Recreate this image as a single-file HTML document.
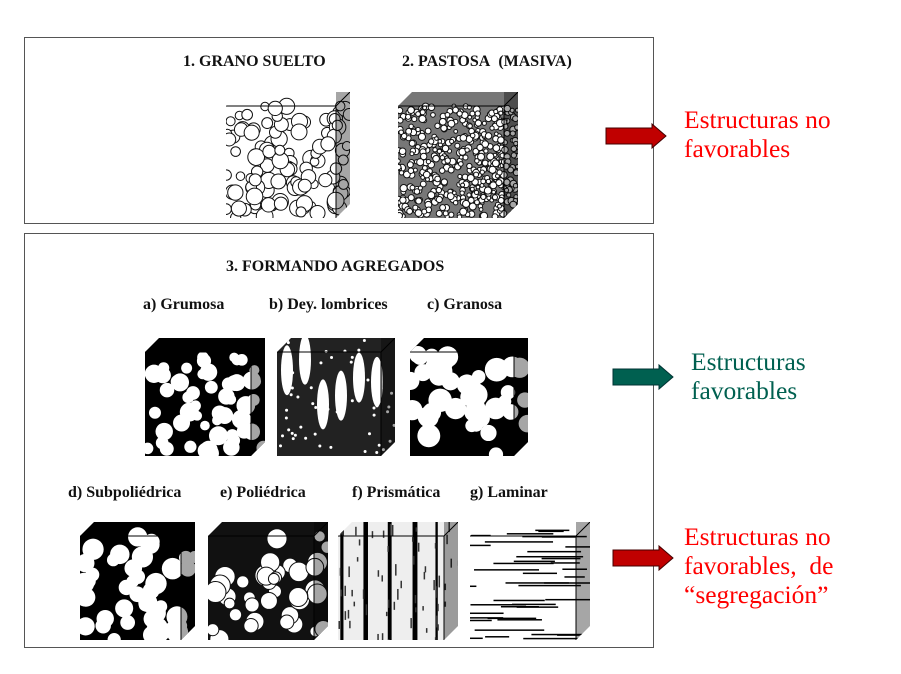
<!DOCTYPE html>
<html><head><meta charset="utf-8"><style>
body{margin:0;background:#fff;width:901px;height:674px;overflow:hidden;position:relative;font-family:"Liberation Serif",serif}
.box{position:absolute;border:1.5px solid #555;box-sizing:border-box}
.lb{position:absolute;font-weight:bold;font-size:16px;white-space:nowrap;color:#111}
.rt{position:absolute;font-size:25.5px;line-height:29px;white-space:nowrap}
svg{position:absolute;left:0;top:0}
</style></head><body>
<div class="box" style="left:24px;top:37px;width:630px;height:187px"></div>
<div class="box" style="left:24px;top:233px;width:630px;height:415px"></div>
<div class="lb" style="left:183px;top:53px">1. GRANO SUELTO</div>
<div class="lb" style="left:402px;top:53px">2. PASTOSA&nbsp; (MASIVA)</div>
<div class="lb" style="left:226px;top:258px">3. FORMANDO AGREGADOS</div>
<div class="lb" style="left:143px;top:296px">a) Grumosa</div>
<div class="lb" style="left:269px;top:296px">b) Dey. lombrices</div>
<div class="lb" style="left:427px;top:296px">c) Granosa</div>
<div class="lb" style="left:68px;top:484px">d) Subpoliédrica</div>
<div class="lb" style="left:220px;top:484px">e) Poliédrica</div>
<div class="lb" style="left:352px;top:484px">f) Prismática</div>
<div class="lb" style="left:470px;top:484px">g) Laminar</div>
<div class="rt" style="left:684px;top:105px;color:#f00">Estructuras no<br>favorables</div>
<div class="rt" style="left:691px;top:347px;color:#006050">Estructuras<br>favorables</div>
<div class="rt" style="left:684px;top:522px;color:#f00">Estructuras no<br>favorables, &nbsp;de<br>“segregación”</div>
<svg id="s" width="901" height="674">
<polygon points="606,128 652,128 652,124 666,136 652,148 652,144 606,144" fill="#c00000" stroke="#400" stroke-width="1"/>
<polygon points="613,369 659,369 659,365 673,377 659,389 659,385 613,385" fill="#006050" stroke="#033" stroke-width="1"/>
<polygon points="613,550 659,550 659,546 673,558 659,570 659,566 613,566" fill="#c00000" stroke="#400" stroke-width="1"/>
</svg>
<script>
var s=document.getElementById('s'),NS='http://www.w3.org/2000/svg';
var seed=7;function r(){seed=(seed*16807)%2147483647;return seed/2147483647;}
function el(t,a,p){var e=document.createElementNS(NS,t);for(var k in a)e.setAttribute(k,a[k]);(p||s).appendChild(e);return e;}
var id=0;
function cube(x,y,w,h,bg,blob,n,type){
 var d=14;
 var cid='c'+(id++);
 var cp=el('clipPath',{id:cid},s);
 el('polygon',{points:[x,y+d,x+d,y,x+w,y,x+w,y+h-d,x+w-d,y+h,x,y+h].join(' ')},cp);
 var gg=el('g',{'clip-path':'url(#'+cid+')'});
 el('rect',{x:x,y:y,width:w,height:h,fill:bg},gg);
 if(type=='lam'){for(var i=0;i<40;i++){el('rect',{x:x+r()*w-20,y:y+r()*h,width:20+r()*50,height:1.5,fill:'#000'},gg);}}
 else if(type=='pri'){for(var i=0;i<5;i++){el('rect',{x:x+i*w/5+r()*4,y:y,width:2+r()*3,height:h,fill:'#000'},gg);}for(var i=0;i<60;i++)el('rect',{x:x+r()*w,y:y+r()*h,width:1.5,height:4+r()*8,fill:'#333'},gg);}
 else if(type=='lom'){for(var i=0;i<6;i++){el('ellipse',{cx:x+10+i*18,cy:y+20+r()*80,rx:6,ry:25,fill:'#fff'},gg);}for(var i=0;i<60;i++)el('circle',{cx:x+r()*w,cy:y+r()*h,r:1.5,fill:'#fff'},gg);}
 else{for(var i=0;i<n;i++){el('circle',{cx:x+r()*w,cy:y+d+r()*(h-d),r:blob*(0.6+r()*0.6),fill:'#fff',stroke:bg=='#000'?'none':'#111','stroke-width':1},gg);}}
 el('polyline',{points:[x+w-d,y+h,x+w-d,y+d,x,y+d,x+w-d,y+d,x+w,y],fill:'none',stroke:'#000','stroke-width':1},gg);
 el('rect',{x:x+w-d,y:y,width:d,height:h,fill:'rgba(0,0,0,0.35)'},gg);
}
cube(226,92,124,126,'#fff',7,110);
cube(398,92,120,126,'#777',3,500);
cube(145,338,120,118,'#000',8,55);
cube(277,338,118,118,'#222',0,0,'lom');
cube(410,338,118,118,'#000',10,40);
cube(80,522,115,118,'#000',9,45);
cube(208,522,120,118,'#111',9,40);
cube(338,522,120,118,'#eee',0,0,'pri');
cube(470,522,120,118,'#fff',0,0,'lam');
</script>
</body></html>
